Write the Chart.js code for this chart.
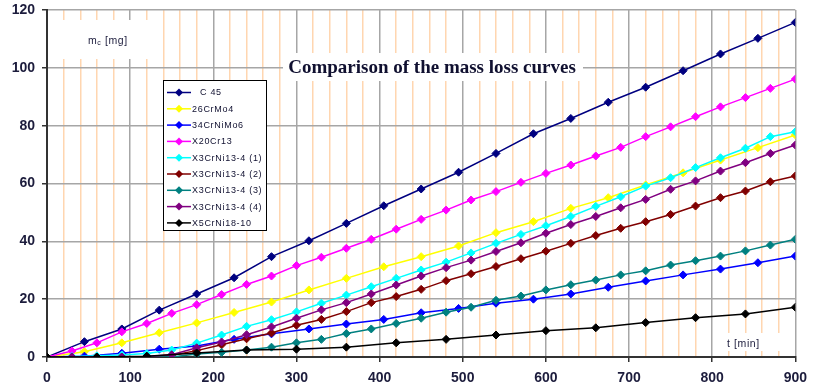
<!DOCTYPE html>
<html>
<head>
<meta charset="utf-8">
<title>Comparison of the mass loss curves</title>
<script src="https://cdn.jsdelivr.net/npm/chart.js@4.4.1/dist/chart.umd.min.js"></script>
<style>
  body { margin: 0; background: #fff; }
  canvas { display: block; }
</style>
</head>
<body>
<canvas id="massLossChart" width="815" height="390"></canvas>
<script>
// sampling times [min] of the different measurement series
const t30 = [0, 30, 60, 90, 120, 150, 180, 210, 240, 270, 300, 330, 360, 390, 420, 450,
             480, 510, 540, 570, 600, 630, 660, 690, 720, 750, 780, 810, 840, 870, 900];
const t45 = [0, 45, 90, 135, 180, 225, 270, 315, 360, 405, 450, 495, 540, 585, 630, 675,
             720, 765, 810, 855, 900];
const t60 = [0, 60, 120, 180, 240, 300, 360, 420, 480, 540, 600, 660, 720, 780, 840, 900];

const seriesNames = ['C 45', '26CrMo4', '34CrNiMo6', 'X20Cr13', 'X3CrNi13-4 (1)',
                     'X3CrNi13-4 (2)', 'X3CrNi13-4 (3)', 'X3CrNi13-4 (4)', 'X5CrNi18-10'];

// mass loss m_c [mg]
const c45 = [0, 5.3, 9.7, 16.2, 21.8, 27.4, 34.7, 40.2, 46.2, 52.3, 58.1, 63.9, 70.4, 77.2,
             82.5, 88.1, 93.3, 99.0, 104.8, 110.2, 115.7];
const crMo4 = [0, 1.8, 4.9, 8.4, 11.8, 15.4, 19.0, 23.2, 27.2, 31.2, 34.7, 38.4, 43.0, 46.8,
               51.4, 55.1, 59.5, 63.7, 68.1, 72.4, 76.8];
const crNiMo6 = [0, 0.3, 1.3, 2.7, 3.8, 6.1, 8.0, 9.7, 11.4, 13.0, 15.3, 16.8, 18.6, 20.0,
                 21.8, 24.1, 26.3, 28.4, 30.4, 32.6, 34.9];
const x20Cr13 = [0, 2.1, 4.9, 8.7, 11.6, 15.1, 18.1, 21.6, 25.1, 28.0, 31.6, 34.5, 37.6, 40.7,
                 44.2, 47.6, 50.8, 54.3, 57.2, 60.4, 63.5, 66.4, 69.5, 72.5, 76.2, 79.6, 83.1,
                 86.5, 89.7, 92.9, 96.1];
const x3CrNi1 = [0, 0.2, 0.4, 0.7, 1.2, 2.4, 4.8, 7.6, 10.6, 12.9, 15.6, 18.6, 21.4, 24.3,
                 27.2, 30.1, 32.8, 36.0, 39.3, 42.4, 45.4, 48.6, 52.1, 55.4, 59.1, 62.0, 65.5,
                 68.9, 72.2, 76.2, 77.9];
const x3CrNi2 = [0, 0, 0, 0, 0.1, 0.6, 2.2, 4.2, 6.3, 8.3, 11.0, 13.0, 15.7, 18.8, 20.9,
                 23.4, 26.4, 28.8, 31.3, 34.0, 36.6, 39.3, 42.0, 44.5, 46.8, 49.3, 52.2, 55.1,
                 57.4, 60.6, 62.6];
const x3CrNi3 = [0, 0, 0, 0, 0, 0, 1.0, 1.6, 2.4, 3.4, 4.9, 6.1, 8.1, 9.7, 11.6, 13.4, 15.5,
                 17.2, 19.6, 21.1, 23.2, 25.0, 26.6, 28.4, 29.8, 31.8, 33.3, 34.9, 36.7, 38.7,
                 40.7];
const x3CrNi4 = [0, 0, 0, 0, 0.2, 0.8, 3.2, 5.2, 7.7, 10.4, 13.4, 16.3, 18.8, 21.8, 24.9,
                 28.0, 30.9, 33.5, 36.5, 39.5, 42.8, 45.8, 48.6, 51.6, 54.5, 58.0, 60.9, 64.3,
                 67.2, 70.4, 73.3];
const x5CrNi = [0, 0, 0.3, 1.4, 2.4, 2.7, 3.4, 4.9, 6.1, 7.6, 9.1, 10.1, 11.9, 13.6, 14.9, 17.2];

const seriesTimes = [t45, t45, t45, t30, t30, t30, t30, t30, t60];
const seriesValues = [c45, crMo4, crNiMo6, x20Cr13, x3CrNi1, x3CrNi2, x3CrNi3, x3CrNi4, x5CrNi];
const seriesColors = ['#000080', '#ffff00', '#0000ff', '#ff00ff', '#00ffff',
                      '#800000', '#008080', '#800080', '#000000'];

const textColor = '#1c1c3c';

const datasets = seriesNames.map((name, i) => ({
    label: name,
    data: seriesTimes[i].map((t, j) => ({ x: t, y: seriesValues[i][j] })),
    borderColor: seriesColors[i],
    backgroundColor: seriesColors[i],
    borderWidth: 1.5,
    pointStyle: 'rectRot',
    pointRadius: 4,
    pointBorderWidth: 1,
    tension: 0,
    order: -i   // later series on top, like the original
}));

function diamond(ctx, x, y, r) {
    ctx.beginPath();
    ctx.moveTo(x, y - r);
    ctx.lineTo(x + r, y);
    ctx.lineTo(x, y + r);
    ctx.lineTo(x - r, y);
    ctx.closePath();
    ctx.fill();
}

const decorations = {
    id: 'decorations',
    beforeDatasetsDraw(chart) {
        const ctx = chart.ctx;
        const a = chart.chartArea;
        ctx.save();
        ctx.fillStyle = '#fff';
        // white backgrounds behind the labels cut the grid
        ctx.fillRect(a.left + 1, 20, 110, 39);   // m_c [mg]
        ctx.fillRect(283, 53, 300, 28);          // title
        ctx.fillRect(720, 333, 70, 18);          // t [min]
        ctx.restore();
    },
    afterDatasetsDraw(chart) {
        const ctx = chart.ctx;
        ctx.save();
        // title
        ctx.fillStyle = '#101030';
        ctx.font = 'bold 19px "Liberation Serif"';
        ctx.textAlign = 'center';
        ctx.textBaseline = 'middle';
        ctx.fillText('Comparison of the mass loss curves', 432, 68);

        // axis labels
        ctx.fillStyle = textColor;
        ctx.textAlign = 'left';
        ctx.letterSpacing = '0.6px';
        ctx.font = '10.5px "Liberation Sans"';
        ctx.fillText('m', 88, 41);
        const mw = ctx.measureText('m').width;
        ctx.font = '7px "Liberation Sans"';
        ctx.fillText('c', 88 + mw, 43);
        const cw = ctx.measureText('c').width;
        ctx.font = '10.5px "Liberation Sans"';
        ctx.fillText(' [mg]', 88 + mw + cw, 41);
        ctx.fillText('t [min]', 727, 344);

        // legend
        const lx = 163, ly = 80, lw = 103, lh = 150;
        ctx.fillStyle = '#fff';
        ctx.fillRect(lx, ly, lw, lh);
        ctx.strokeStyle = '#000';
        ctx.lineWidth = 1;
        ctx.strokeRect(lx + 0.5, ly + 0.5, lw, lh);
        ctx.font = '9px "Liberation Sans"';
        ctx.letterSpacing = '0.7px';
        seriesNames.forEach((name, i) => {
            const y = 92.5 + i * 16.3;
            ctx.strokeStyle = seriesColors[i];
            ctx.lineWidth = 1.5;
            ctx.beginPath();
            ctx.moveTo(167, y);
            ctx.lineTo(191, y);
            ctx.stroke();
            ctx.fillStyle = seriesColors[i];
            diamond(ctx, 179, y, 4);
            ctx.fillStyle = '#101030';
            ctx.fillText(name, i === 0 ? 200 : 192, y + 0.5);
        });
        ctx.restore();
    }
};

new Chart(document.getElementById('massLossChart'), {
    type: 'line',
    data: { datasets: datasets },
    options: {
        responsive: false,
        animation: false,
        layout: { padding: { top: 10, right: 15, left: 0, bottom: 0 } },
        plugins: {
            legend: { display: false },
            tooltip: { enabled: false }
        },
        scales: {
            x: {
                type: 'linear',
                min: 0,
                max: 900,
                afterFit: s => { s.height = 33; },
                ticks: {
                    stepSize: 20,
                    autoSkip: false,
                    maxRotation: 0,
                    padding: 8,
                    color: textColor,
                    font: { family: 'Liberation Sans', size: 14, weight: 'bold' },
                    callback: v => (v % 100 === 0 ? v : '')
                },
                grid: {
                    color: c => (c.tick && c.tick.value % 100 === 0 ? '#a6a6a6' : '#ffd6b0'),
                    lineWidth: 1.5,
                    tickLength: 5,
                    tickColor: c => (c.tick && c.tick.value % 100 === 0 ? '#333' : 'rgba(0,0,0,0)')
                },
                border: { color: '#333', width: 2 }
            },
            y: {
                min: 0,
                max: 120,
                afterFit: s => { s.width = 47; s.paddingTop = 0; s.paddingBottom = 0; },
                ticks: {
                    stepSize: 20,
                    padding: 7,
                    color: textColor,
                    font: { family: 'Liberation Sans', size: 14, weight: 'bold' }
                },
                grid: {
                    color: '#a6a6a6',
                    lineWidth: 1.5,
                    tickLength: 5,
                    tickColor: '#333'
                },
                border: { color: '#333', width: 2 }
            }
        }
    },
    plugins: [decorations]
});
</script>
</body>
</html>
